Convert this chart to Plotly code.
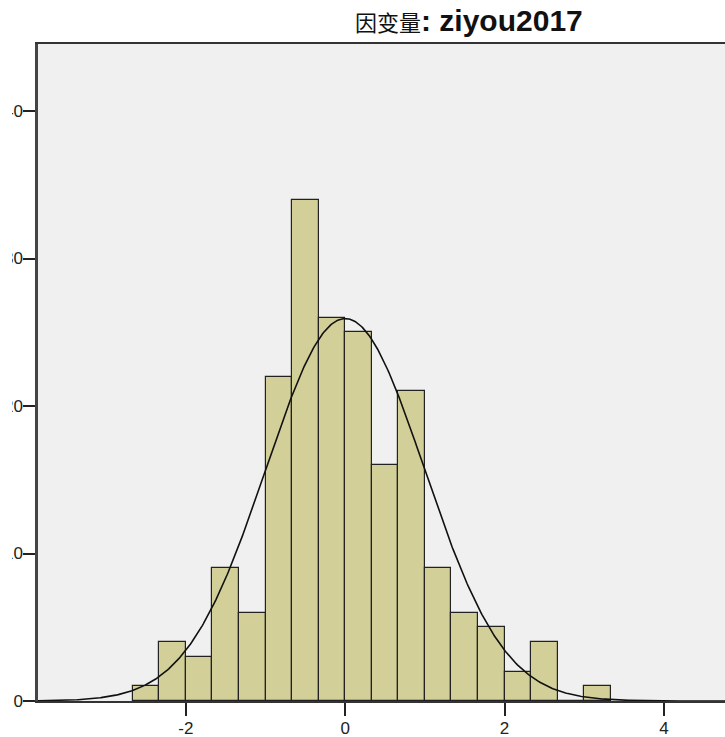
import numpy as np
import plotly.graph_objects as go

# ---- data ----
title_cn = "因变量"
title_var = "ziyou2017"
bin_start = -8 / 3          # left edge of first bin
bin_width = 1 / 3
counts = [1, 4, 3, 9, 6, 22, 34, 26, 25, 16, 21, 9, 6, 5, 2, 4, 0, 1]
curve_mean = 0.0
curve_sd = 0.995
curve_n = sum(counts)
x_tickvals = [-2, 0, 2, 4]
x_ticktext = ["-2", "0", "2", "4"]
y_tickvals = [0, 10, 20, 30, 40]
y_ticktext = ["0", "10", "20", "30", "40"]

# ---- layout geometry ----
W, H = 725, 737
ML, MR, MT, MB = 38, 0, 44, 36
px_per_x = 79.7
x0_pix = 345.2
x_range = [(ML - x0_pix) / px_per_x, (W - MR - x0_pix) / px_per_x]
y_range = [0, (H - MT - MB) / 14.75]

centers = [bin_start + bin_width * (i + 0.5) for i in range(len(counts))]

xs = np.linspace(x_range[0], x_range[1], 600)
ys = curve_n * bin_width / (curve_sd * np.sqrt(2 * np.pi)) * np.exp(-0.5 * ((xs - curve_mean) / curve_sd) ** 2)

fig = go.Figure()
fig.add_trace(go.Bar(
    x=centers, y=counts, width=bin_width,
    marker=dict(color="#D3CF98", line=dict(color="#222222", width=1.2)),
    hoverinfo="x+y", showlegend=False,
))
fig.add_trace(go.Scatter(
    x=xs, y=ys, mode="lines",
    line=dict(color="#111111", width=1.6),
    hoverinfo="skip", showlegend=False,
))

axis_font = dict(family="Liberation Sans, Arial, sans-serif", size=17, color="#222222")

fig.update_layout(
    width=W, height=H,
    margin=dict(l=ML, r=MR, t=MT, b=MB, pad=0),
    paper_bgcolor="white",
    plot_bgcolor="#F0F0F0",
    bargap=0,
    showlegend=False,
    xaxis=dict(
        range=x_range, tickvals=x_tickvals, ticktext=x_ticktext,
        ticks="outside", ticklen=13, tickwidth=2, tickcolor="#222222",
        showline=True, linecolor="#333333", linewidth=2, mirror=True,
        showgrid=False, zeroline=False, tickfont=axis_font, automargin=False,
        ticklabelstandoff=-2,
    ),
    yaxis=dict(
        range=y_range, tickvals=y_tickvals, ticktext=y_ticktext,
        ticks="outside", ticklen=12, tickwidth=2, tickcolor="#222222",
        showline=True, linecolor="#444444", linewidth=2.5,
        showgrid=False, zeroline=False, tickfont=axis_font, automargin=False,
        ticklabelstandoff=-3,
    ),
    annotations=[dict(
        xref="paper", yref="paper",
        x=(353 - ML) / (W - ML - MR), y=(H - MB - 20) / (H - MT - MB),
        xanchor="left", yanchor="middle", showarrow=False,
        text=(f'<span style="font-family:Noto Sans CJK SC;font-size:22px">{title_cn}</span>'
              f'<b>: {title_var}</b>'),
        font=dict(family="Liberation Sans, Arial, sans-serif", size=30, color="#111111"),
    )],
    shapes=[dict(
        type="rect", xref="paper", yref="paper", layer="above",
        x0=(0 - ML) / (W - ML - MR), x1=(12 - ML) / (W - ML - MR),
        y0=-0.06, y1=1.0,
        fillcolor="white", line=dict(width=0),
    )],
)

fig.write_html("out.html")
